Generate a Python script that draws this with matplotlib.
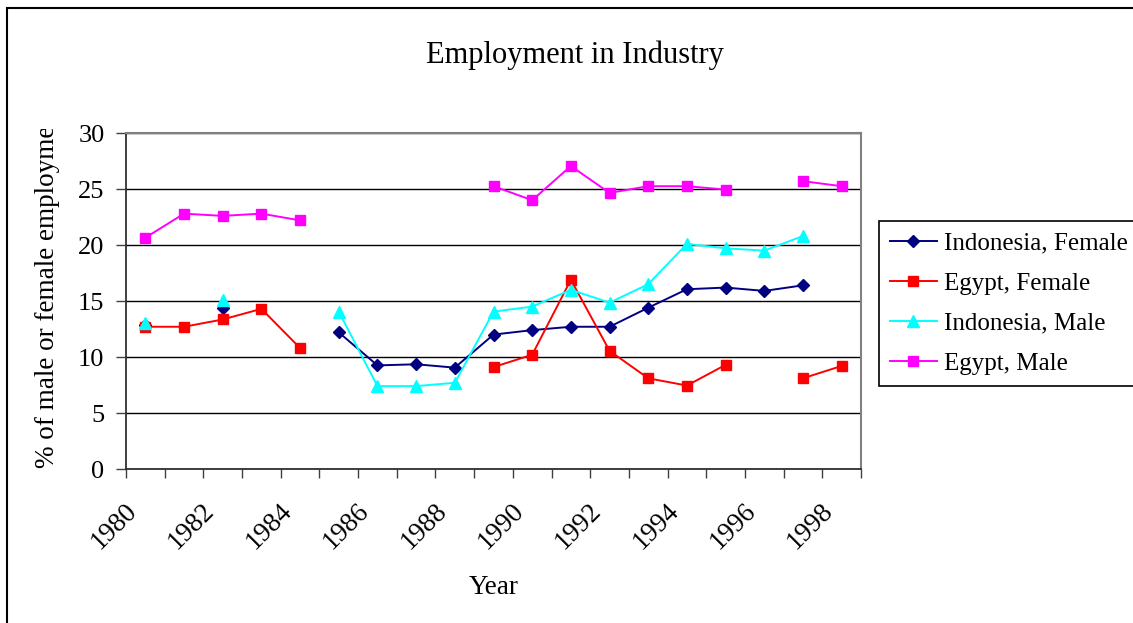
import numpy as np
import matplotlib
matplotlib.use("Agg")
import matplotlib.pyplot as plt
from matplotlib.patches import Rectangle
from matplotlib.transforms import Bbox, ScaledTranslation

nan = np.nan
years = list(range(1980, 1999))
indonesia_female = [12.9, nan, 14.4, nan, nan, 12.2, 9.25, 9.35, 9.05, 12.0, 12.4, 12.7, 12.7, 14.4, 16.05, 16.2, 15.9, 16.4, nan]
egypt_female = [12.7, 12.7, 13.35, 14.3, 10.8, nan, nan, nan, nan, 9.1, 10.2, 16.9, 10.55, 8.1, 7.45, 9.3, nan, 8.1, 9.2]
indonesia_male = [13.05, nan, 15.1, nan, nan, 14.05, 7.4, 7.4, 7.7, 14.05, 14.5, 16.0, 14.85, 16.5, 20.1, 19.7, 19.5, 20.8, nan]
egypt_male = [20.65, 22.8, 22.6, 22.8, 22.2, nan, nan, nan, nan, 25.25, 24.0, 27.05, 24.65, 25.25, 25.25, 24.95, nan, 25.7, 25.25]
series_names = ["Indonesia, Female", "Egypt, Female", "Indonesia, Male", "Egypt, Male"]
series_values = [indonesia_female, egypt_female, indonesia_male, egypt_male]
series_colors = ["#000080", "#FF0000", "#00FFFF", "#FF00FF"]
series_markers = ["D", "s", "^", "s"]
marker_sizes = [6.5, 7, 8, 7]

W, H = 1133, 623
plt.rcParams['font.family'] = ['Liberation Serif', 'DejaVu Serif']
fig = plt.figure(figsize=(W / 100, H / 100), dpi=100)

def fx(px):
    return px / W

def fy(py):
    return 1 - py / H

# outer chart border
fig.patches.append(Rectangle((fx(7), fy(700)), fx(1200), fy(8) - fy(700), transform=fig.transFigure,
                             fill=False, edgecolor='black', linewidth=1.5))

L, R, T, B = 126, 861, 133, 469
ax = fig.add_axes([fx(L), fy(B), fx(R - L), fy(T) - fy(B)])

x = np.arange(len(years))
for name, vals, c, m, ms in zip(series_names, series_values, series_colors, series_markers, marker_sizes):
    ax.plot(x, vals, color=c, marker=m, markersize=ms, linewidth=1.4, label=name,
            markeredgecolor=c, markerfacecolor=c, clip_on=False, zorder=3)

ax.set_xlim(-0.5, len(years) - 0.5)
ax.set_ylim(0, 30)
ax.set_yticks(range(0, 31, 5))
ax.set_yticklabels([str(v) for v in range(0, 31, 5)], fontsize=19)
ax.yaxis.grid(True, color='black', linewidth=1)
ax.set_axisbelow(True)

ax.set_xticks(x[::2])
ax.set_xticklabels([str(y) for y in years[::2]], fontsize=19.5, rotation=45,
                   ha='right', va='center', rotation_mode='anchor')
ax.set_xticks(np.arange(-0.5, len(years)), minor=True)
ax.tick_params(axis='x', which='major', length=0, pad=17)
ax.tick_params(axis='x', which='minor', length=6.5, width=1, direction='out', color='#404040')
ax.tick_params(axis='y', length=7, width=1, direction='out', pad=8.5, color='#404040')
shift = ScaledTranslation(-12 / 100, -15 / 100, fig.dpi_scale_trans)
for lab in ax.get_xticklabels():
    lab.set_transform(lab.get_transform() + shift)

for s in ['top', 'right']:
    ax.spines[s].set_color('#808080')
    ax.spines[s].set_linewidth(1.5)
for s in ['left', 'bottom']:
    ax.spines[s].set_color('#303030')
    ax.spines[s].set_linewidth(1.3)

fig.text(fx(575), fy(55), "Employment in Industry", fontsize=22, ha='center', va='center')
fig.text(fx(494), fy(587), "Year", fontsize=19.5, ha='center', va='center')

yl = fig.text(fx(48), fy(468), "% of male or female employment", fontsize=19.5, rotation=90,
              ha='center', va='bottom')
yl.set_clip_box(Bbox.from_extents(0, 0, 120, H - 129))
yl.set_clip_on(True)

leg = fig.legend(loc='upper left', bbox_to_anchor=(fx(879), fy(221)), fontsize=18,
                 frameon=True, fancybox=False, edgecolor='black', framealpha=1,
                 handlelength=1.85, handletextpad=0.3, borderpad=0.45, labelspacing=0.70,
                 borderaxespad=0)
leg.get_frame().set_linewidth(1.2)

fig.savefig("out.png", dpi=100)
